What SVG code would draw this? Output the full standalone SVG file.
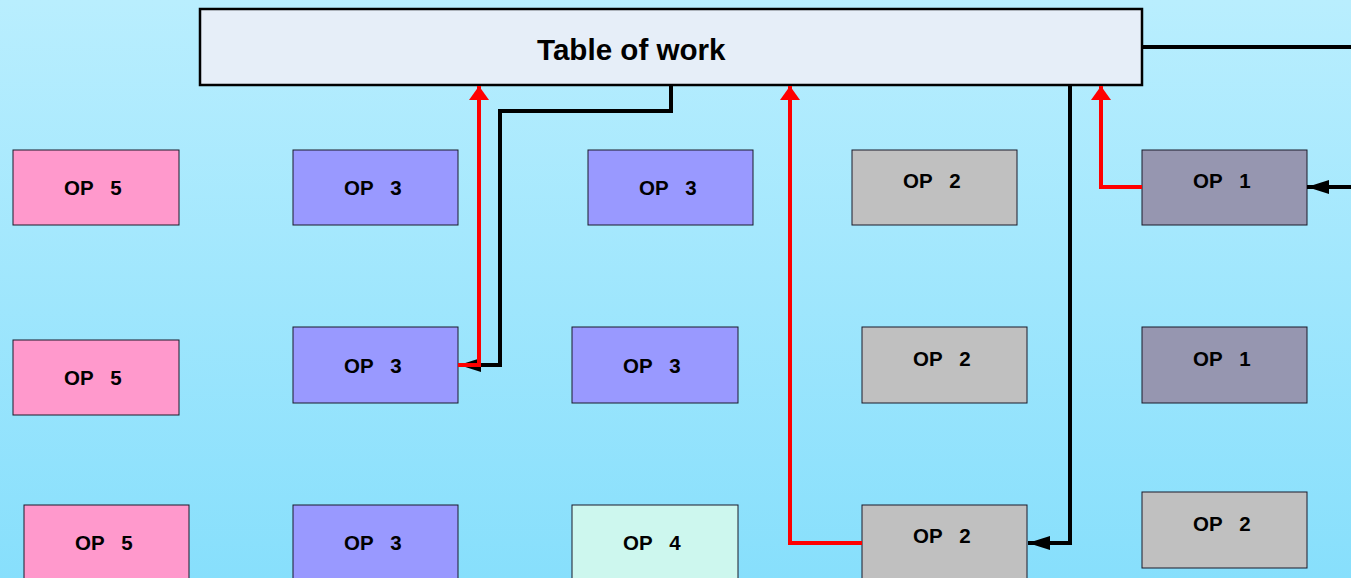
<svg xmlns="http://www.w3.org/2000/svg" width="1351" height="578" viewBox="0 0 1351 578">
<defs>
<linearGradient id="bg" x1="0" y1="0" x2="0" y2="1">
<stop offset="0" stop-color="#b9eefe"/>
<stop offset="1" stop-color="#87dffc"/>
</linearGradient>
<marker id="ar" markerUnits="userSpaceOnUse" markerWidth="16" markerHeight="22" refX="14" refY="10" orient="auto">
<path d="M0,0 L14,10 L0,20 Z" fill="#ff0000"/>
</marker>
<marker id="ab" markerUnits="userSpaceOnUse" markerWidth="24" markerHeight="16" refX="22" refY="7" orient="auto">
<path d="M0,0 L22,7 L0,14 Z" fill="#000"/>
</marker>
<style>
.n rect{stroke:#1a1a2a;stroke-width:1}
.n text{font-family:"Liberation Sans",Arial,sans-serif;font-weight:bold;font-size:20.5px;fill:#000;white-space:pre}
.p5{fill:#ff99cc}.p3{fill:#9999ff}.p2{fill:#c0c0c0}.p1{fill:#9696b0}.p4{fill:#cdf7ee}
.k{fill:none;stroke:#000;stroke-width:4}
.r{fill:none;stroke:#ff0000;stroke-width:4}
</style>
</defs>
<rect width="1351" height="578" fill="url(#bg)"/>
<g id="table">
<rect x="200" y="9" width="942" height="76" fill="#e6eef8" stroke="#000" stroke-width="2.5"/>
<text x="537" y="60" font-family="Liberation Sans,Arial,sans-serif" font-weight="bold" font-size="29.6">Table of work</text>
</g>
<g id="r1c1" class="n"><rect class="p5" x="13" y="150" width="166" height="75"/><text x="64" y="195">OP   5</text></g>
<g id="r1c2" class="n"><rect class="p3" x="293" y="150" width="165" height="75"/><text x="344" y="195">OP   3</text></g>
<g id="r1c3" class="n"><rect class="p3" x="588" y="150" width="165" height="75"/><text x="639" y="195">OP   3</text></g>
<g id="r1c4" class="n"><rect class="p2" x="852" y="150" width="165" height="75"/><text x="903" y="188">OP   2</text></g>
<g id="r1c5" class="n"><rect class="p1" x="1142" y="150" width="165" height="75"/><text x="1193" y="188">OP   1</text></g>
<g id="r2c1" class="n"><rect class="p5" x="13" y="340" width="166" height="75"/><text x="64" y="385">OP   5</text></g>
<g id="r2c2" class="n"><rect class="p3" x="293" y="327" width="165" height="76"/><text x="344" y="373">OP   3</text></g>
<g id="r2c3" class="n"><rect class="p3" x="572" y="327" width="166" height="76"/><text x="623" y="373">OP   3</text></g>
<g id="r2c4" class="n"><rect class="p2" x="862" y="327" width="165" height="76"/><text x="913" y="366">OP   2</text></g>
<g id="r2c5" class="n"><rect class="p1" x="1142" y="327" width="165" height="76"/><text x="1193" y="366">OP   1</text></g>
<g id="r3c1" class="n"><rect class="p5" x="24" y="505" width="165" height="76"/><text x="75" y="550">OP   5</text></g>
<g id="r3c2" class="n"><rect class="p3" x="293" y="505" width="165" height="76"/><text x="344" y="550">OP   3</text></g>
<g id="r3c3" class="n"><rect class="p4" x="572" y="505" width="166" height="76"/><text x="623" y="550">OP   4</text></g>
<g id="r3c4" class="n"><rect class="p2" x="862" y="505" width="165" height="76"/><text x="913" y="543">OP   2</text></g>
<g id="r3c5" class="n"><rect class="p2" x="1142" y="492" width="165" height="76"/><text x="1193" y="531">OP   2</text></g>
<g id="connectors">
<path class="k" d="M1142,47 H1351"/>
<path class="k" d="M1351,187 H1307" marker-end="url(#ab)"/>
<path class="r" d="M1142,187 H1101 V86" marker-end="url(#ar)"/>
<path class="k" d="M1070,85 V543 H1028" marker-end="url(#ab)"/>
<path class="r" d="M862,543 H790 V86" marker-end="url(#ar)"/>
<path class="k" d="M671,85 V111 H500 V365 H459" marker-end="url(#ab)"/>
<path class="r" d="M458,365 H479 V86" marker-end="url(#ar)"/>
</g>
</svg>
